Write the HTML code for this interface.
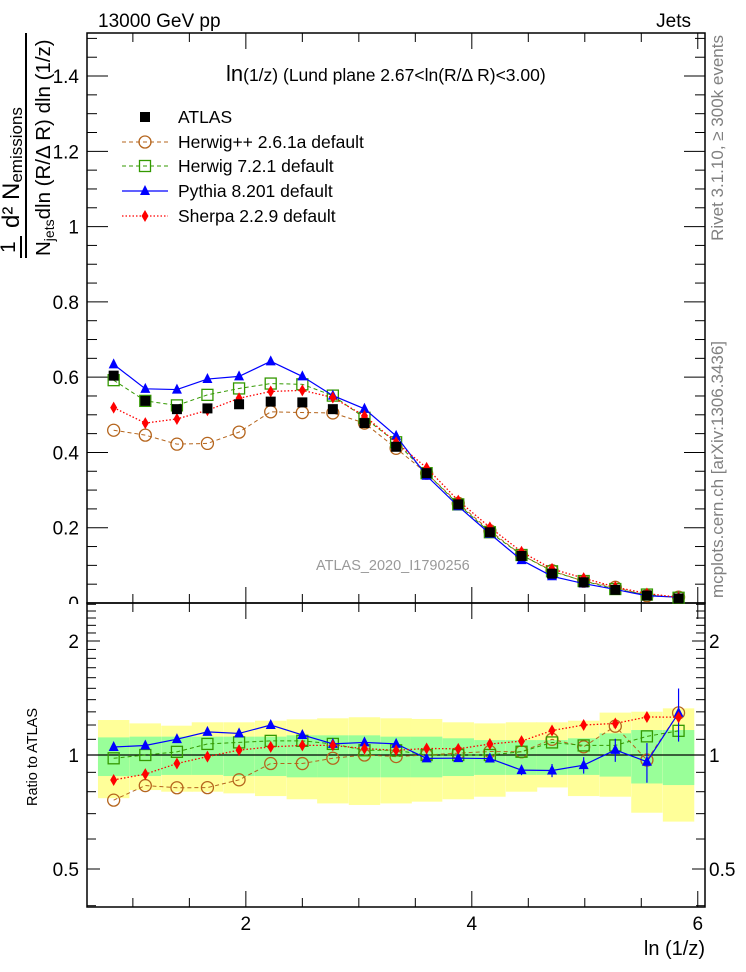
<!DOCTYPE html>
<html><head><meta charset="utf-8">
<style>
html,body{margin:0;padding:0;background:#fff;}
svg{display:block;font-family:"Liberation Sans",Arial,sans-serif;}
</style></head>
<body>
<svg id="chart" width="746" height="972" viewBox="0 0 746 972" xmlns="http://www.w3.org/2000/svg">
<rect x="0" y="0" width="746" height="972" fill="#fff"/>
<g id="bands"></g>
<g id="grid"></g>
<g id="series"></g>
<text x="98" y="27" font-size="19">13000 GeV pp</text>
<text x="691" y="27" font-size="19" text-anchor="end">Jets</text>
<text x="226" y="81" font-size="17.5"><tspan font-size="22">ln</tspan>(1/z) (Lund plane 2.67&lt;ln(R/Δ R)&lt;3.00)</text>
<text x="316" y="570" font-size="14.5" fill="#999">ATLAS_2020_I1790256</text>
<text transform="translate(723,35) rotate(-90)" font-size="17" fill="#808080" text-anchor="end">Rivet 3.1.10, ≥ 300k events</text>
<text transform="translate(723,598) rotate(-90)" font-size="17" fill="#808080">mcplots.cern.ch [arXiv:1306.3436]</text>
<g>
<text transform="translate(15,253) rotate(-90)" font-size="21">1</text>
<line x1="21" y1="236" x2="21" y2="258" stroke="#000" stroke-width="2"/>
<text transform="translate(19,228) rotate(-90)" font-size="24">d² N<tspan font-size="17" dy="3">emissions</tspan></text>
<line x1="26" y1="33" x2="26" y2="258" stroke="#000" stroke-width="2"/>
<text transform="translate(50,256) rotate(-90)" font-size="20.5">N<tspan font-size="14" dy="4">jets</tspan><tspan dy="-4">dln (R/Δ R) dln (1/z)</tspan></text>
</g>
<text transform="translate(37,757) rotate(-90)" font-size="14.5" text-anchor="middle">Ratio to ATLAS</text>
<text x="705" y="955" font-size="20" text-anchor="end">ln (1/z)</text>
<g id="legend"></g>
</svg>
<script>
const xCenters=[0.83,1.11,1.39,1.66,1.94,2.22,2.50,2.77,3.05,3.33,3.60,3.88,4.16,4.44,4.71,4.99,5.27,5.55,5.83];
const atlas=[0.604,0.537,0.515,0.517,0.528,0.535,0.533,0.515,0.478,0.415,0.345,0.262,0.188,0.125,0.078,0.055,0.035,0.020,0.012];
const herwigpp=[0.459,0.446,0.422,0.424,0.454,0.508,0.506,0.505,0.478,0.411,0.345,0.265,0.192,0.1275,0.0858,0.0578,0.0417,0.0194,0.0155];
const herwig7=[0.592,0.537,0.525,0.553,0.570,0.583,0.581,0.551,0.492,0.427,0.345,0.262,0.188,0.1275,0.0842,0.0583,0.0371,0.0224,0.0139];
const pythia=[0.634,0.569,0.567,0.595,0.602,0.642,0.602,0.551,0.516,0.444,0.338,0.257,0.184,0.114,0.071,0.0517,0.0361,0.0192,0.0155];
const sherpa=[0.519,0.478,0.489,0.512,0.544,0.562,0.565,0.546,0.497,0.427,0.359,0.272,0.201,0.136,0.0905,0.066,0.0424,0.0252,0.0151];
const pythiaRelErr=[0.015,0.015,0.015,0.015,0.015,0.015,0.015,0.015,0.015,0.015,0.02,0.02,0.02,0.03,0.04,0.05,0.07,0.12,0.16];
const bandYellowHi=[1.237,1.212,1.195,1.220,1.220,1.232,1.242,1.250,1.258,1.250,1.245,1.220,1.212,1.220,1.220,1.232,1.294,1.301,1.328];
const bandYellowLo=[0.769,0.808,0.800,0.800,0.792,0.779,0.764,0.745,0.738,0.745,0.753,0.764,0.776,0.800,0.821,0.779,0.776,0.704,0.667];
const bandGreenHi=[1.113,1.118,1.118,1.118,1.118,1.118,1.127,1.127,1.127,1.118,1.118,1.107,1.095,1.095,1.095,1.107,1.141,1.164,1.164];
const bandGreenLo=[0.880,0.880,0.886,0.886,0.880,0.880,0.873,0.873,0.873,0.873,0.873,0.880,0.886,0.886,0.886,0.886,0.877,0.841,0.833];
const mainTicks=[0,0.2,0.4,0.6,0.8,1,1.2,1.4];
const mainTickLabels=["0","0.2","0.4","0.6","0.8","1","1.2","1.4"];
const ratioTicks=[0.5,1,2];
const ratioTickLabels=["0.5","1","2"];
const xTicks=[2,4,6];
const xTickLabels=["2","4","6"];
const binHalf=0.139;

const NS="http://www.w3.org/2000/svg";
const L=87,R=705,MT=33,MB=603,RT=603,RB=907;
const X0=0.594,X1=6.064;
function sx(v){return L+(v-X0)/(X1-X0)*(R-L);}
function sy(v){return 603-v*376.4;}
function ry(v){return 755-Math.log2(v)*114;}
function el(tag,attrs,parent){const e=document.createElementNS(NS,tag);for(const k in attrs)e.setAttribute(k,attrs[k]);parent.appendChild(e);return e;}
const bands=document.getElementById('bands'),grid=document.getElementById('grid'),series=document.getElementById('series'),legend=document.getElementById('legend');

for(let i=0;i<xCenters.length;i++){
  const x0=sx(xCenters[i]-binHalf),x1=sx(xCenters[i]+binHalf);
  const a=el('rect',{x:x0,y:ry(bandYellowHi[i]),width:x1-x0,height:ry(bandYellowLo[i])-ry(bandYellowHi[i]),fill:'#ffff99'},bands);
  
  
  const b=el('rect',{x:x0,y:ry(bandGreenHi[i]),width:x1-x0,height:ry(bandGreenLo[i])-ry(bandGreenHi[i]),fill:'#99ff99'},bands);
  
  
}
el('rect',{x:L,y:MT,width:R-L,height:MB-MT,fill:'none',stroke:'#000','stroke-width':1.5},grid);
el('rect',{x:L,y:RT,width:R-L,height:RB-RT,fill:'none',stroke:'#000','stroke-width':1.5},grid);
el('line',{x1:L,y1:ry(1),x2:R,y2:ry(1),stroke:'#000','stroke-width':1.2},grid);
for(let v=0;v<=1.5001;v+=0.05){
  const major=Math.abs(v/0.2-Math.round(v/0.2))<1e-6;const len=major?21:10;const y=sy(v);
  el('line',{x1:L,y1:y,x2:L+len,y2:y,stroke:'#000'},grid);
  el('line',{x1:R,y1:y,x2:R-len,y2:y,stroke:'#000'},grid);
}
mainTicks.forEach((v,i)=>{const t=el('text',{x:79,y:sy(v)+7,'font-size':19,'text-anchor':'end'},grid);t.textContent=mainTickLabels[i];
  
  });
el('rect',{x:40,y:604,width:45,height:16,fill:'#fff'},grid);
const rminor=[0.4,0.5,0.6,0.7,0.8,0.9,1,1.1,1.2,1.3,1.4,1.5,1.6,1.7,1.8,1.9,2,2.1,2.2,2.3,2.4,2.5];
rminor.forEach(v=>{const y=ry(v);if(y<RT||y>RB)return;const major=(v===0.5||v===1||v===2);const len=major?13:9;
  el('line',{x1:L,y1:y,x2:L+len,y2:y,stroke:'#000'},grid);el('line',{x1:R,y1:y,x2:R-len,y2:y,stroke:'#000'},grid);});
ratioTicks.forEach((v,i)=>{
  const t=el('text',{x:79,y:ry(v)+7,'font-size':19,'text-anchor':'end'},grid);t.textContent=ratioTickLabels[i];
  
  
  const t2=el('text',{x:709,y:ry(v)+7,'font-size':19},grid);t2.textContent=ratioTickLabels[i];
  
  });
for(let v=1;v<=6.001;v+=0.5){const x=sx(v);const major=Math.abs(v-Math.round(v/2)*2)<1e-6;const len=major?16:9;
  el('line',{x1:x,y1:MT,x2:x,y2:MT+len,stroke:'#000'},grid);
  el('line',{x1:x,y1:MB-len,x2:x,y2:MB+len,stroke:'#000'},grid);
  el('line',{x1:x,y1:RB,x2:x,y2:RB-len,stroke:'#000'},grid);}
xTicks.forEach((v,i)=>{const t=el('text',{x:sx(v),y:930,'font-size':19,'text-anchor':'middle'},grid);t.textContent=xTickLabels[i];
  
  });

function marker(type,x,y,color,parent){
  if(type==='square')return el('rect',{x:x-5,y:y-5,width:10,height:10,fill:'#000'},parent);
  if(type==='circle')return el('circle',{cx:x,cy:y,r:6,fill:'none',stroke:color,'stroke-width':1.3},parent);
  if(type==='osquare')return el('rect',{x:x-5.5,y:y-5.5,width:11,height:11,fill:'none',stroke:color,'stroke-width':1.3},parent);
  if(type==='tri')return el('polygon',{points:`${x},${y-6} ${x+5},${y+4} ${x-5},${y+4}`,fill:color},parent);
  if(type==='diamond')return el('polygon',{points:`${x},${y-6} ${x+3.5},${y} ${x},${y+6} ${x-3.5},${y}`,fill:color},parent);
}
const defs=[
 {name:'herwigpp',data:herwigpp,color:'#b5651d',dash:'4,3',w:1,m:'circle',label:'Herwig++ 2.6.1a default'},
 {name:'herwig7',data:herwig7,color:'#339900',dash:'4,3',w:1,m:'osquare',label:'Herwig 7.2.1 default'},
 {name:'pythia',data:pythia,color:'#0000ff',dash:'',w:1.2,m:'tri',label:'Pythia 8.201 default'},
 {name:'sherpa',data:sherpa,color:'#ff0000',dash:'1.5,2',w:1.3,m:'diamond',label:'Sherpa 2.2.9 default'}];
defs.forEach(d=>{
  const g=el('g',{},series);
  
  
  const pm=d.data.map((v,i)=>`${sx(xCenters[i])},${sy(v)}`).join(' ');
  el('polyline',{points:pm,fill:'none',stroke:d.color,'stroke-width':d.w,'stroke-dasharray':d.dash},g);
  const pr=d.data.map((v,i)=>`${sx(xCenters[i])},${ry(v/atlas[i])}`).join(' ');
  el('polyline',{points:pr,fill:'none',stroke:d.color,'stroke-width':d.w,'stroke-dasharray':d.dash},g);
  d.data.forEach((v,i)=>{
    const x=sx(xCenters[i]);
    if(d.name==='pythia'){
      const r=v/atlas[i],e=pythiaRelErr[i];
      el('line',{x1:x,y1:ry(r*(1+e)),x2:x,y2:ry(r*(1-e)),stroke:d.color,'stroke-width':1.2},g);
      el('line',{x1:x,y1:sy(v*(1+e)),x2:x,y2:sy(v*(1-e)),stroke:d.color,'stroke-width':1.2},g);
    }
    const m1=marker(d.m,x,sy(v),d.color,g);
    
    
    const m2=marker(d.m,x,ry(v/atlas[i]),d.color,g);
    
    
  });
});
const ga=el('g',{},series);


atlas.forEach((v,i)=>{const m=marker('square',sx(xCenters[i]),sy(v),'#000',ga);
  
  });
const lrows=[117,142,166,191,216];
const a0=marker('square',145,lrows[0],'#000',legend);


const at=el('text',{x:178,y:lrows[0]+6,'font-size':17.5},legend);at.textContent='ATLAS';


defs.forEach((d,k)=>{const y=lrows[k+1];
  el('line',{x1:122,y1:y,x2:168,y2:y,stroke:d.color,'stroke-width':d.w,'stroke-dasharray':d.dash},legend);
  const m=marker(d.m,145,y,d.color,legend);
  
  
  const t=el('text',{x:178,y:y+6,'font-size':17.5},legend);t.textContent=d.label;
  
  });
</script>
</body></html>
